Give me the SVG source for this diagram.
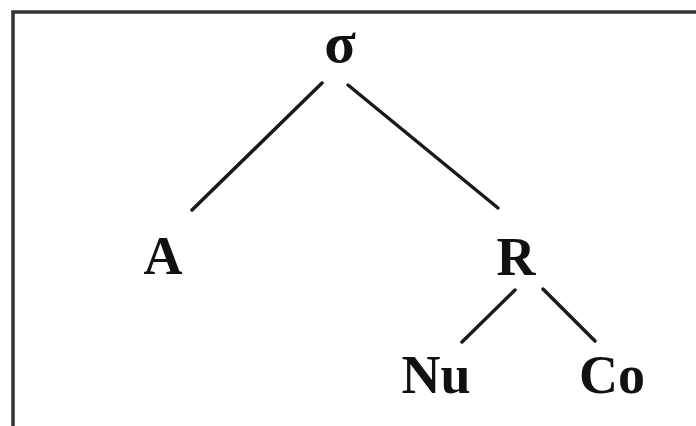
<svg xmlns="http://www.w3.org/2000/svg" width="696" height="426" viewBox="0 0 696 426">
<style>
.lbl{font-family:"Liberation Serif","Times New Roman",serif;font-weight:bold;font-size:54px;fill:#111;text-anchor:middle}
.edge{stroke:#1a1a1a;stroke-width:3.5;stroke-linecap:round;fill:none}
.frame{stroke:#333;stroke-width:3.5;fill:none}
</style>
<rect width="696" height="426" fill="#fff"/>
<path class="frame" d="M13,426 L13,12 L696,12"/>
<g id="connectors">
<line class="edge" x1="322" y1="83" x2="192" y2="210"/>
<line class="edge" x1="348" y1="85" x2="498" y2="208"/>
<line class="edge" x1="515" y1="290" x2="462" y2="342"/>
<line class="edge" x1="543" y1="289" x2="595" y2="341"/>
</g>
<g id="sigma"><text class="lbl" x="340" y="62" style="font-size:58px">σ</text></g>
<g id="A"><text class="lbl" x="163" y="274">A</text></g>
<g id="R"><text class="lbl" x="516" y="275">R</text></g>
<g id="Nu"><text class="lbl" x="436" y="393">Nu</text></g>
<g id="Co"><text class="lbl" x="612" y="393">Co</text></g>
</svg>
